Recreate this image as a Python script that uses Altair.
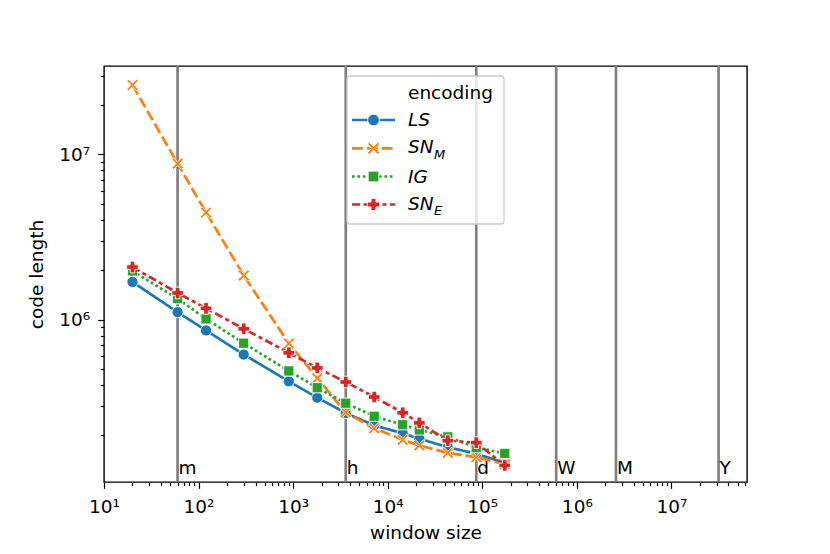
import altair as alt
import pandas as pd

# ---------------- data ----------------
window = [20, 60, 120, 300, 900, 1800, 3600, 7200, 14400, 21600, 43200, 86400, 172800]
ls_vals = [1.69e6, 1.11e6, 8.6e5, 6.15e5, 4.23e5, 3.37e5, 2.72e5, 2.29e5, 2.05e5, 1.9e5, 1.69e5, 1.54e5, 1.36e5]
snm_vals = [2.63e7, 8.8e6, 4.45e6, 1.85e6, 7.16e5, 4.42e5, 2.74e5, 2.2e5, 1.87e5, 1.73e5, 1.56e5, 1.47e5, 1.33e5]
ig_vals = [1.97e6, 1.34e6, 1.01e6, 7.2e5, 4.89e5, 3.87e5, 3.12e5, 2.6e5, 2.31e5, 2.15e5, 1.95e5, 1.68e5, 1.55e5]
sne_vals = [2.08e6, 1.45e6, 1.17e6, 8.8e5, 6.3e5, 5.1e5, 4.19e5, 3.4e5, 2.73e5, 2.37e5, 1.85e5, 1.8e5, 1.31e5]

series_keys = ["LS", "SN_M", "IG", "SN_E"]
series_main = ["LS", "SN", "IG", "SN"]
series_sub = ["", "M", "", "E"]
series_values = [ls_vals, snm_vals, ig_vals, sne_vals]

unit_values = [60, 3600, 86400, 604800, 2592000, 31536000]
unit_labels = ["m", "h", "d", "W", "M", "Y"]

x_major = [10, 100, 1000, 10000, 100000, 1000000, 10000000]
x_major_labels = ["10¹", "10²", "10³", "10⁴", "10⁵", "10⁶", "10⁷"]
y_major = [1000000, 10000000]
y_major_labels = ["10⁶", "10⁷"]

# ---------------- styles ----------------
colors = ["#1f77b4", "#ff7f0e", "#2ca02c", "#d62728"]
dashes = [[1, 0], [10.8, 4.05], [2.7, 2.7], [8.1, 3.4, 4.05, 3.4]]
X_PATH = "M0,-0.3L0.7,-1L1,-0.7L0.3,0L1,0.7L0.7,1L0,0.3L-0.7,1L-1,0.7L-0.3,0L-1,-0.7L-0.7,-1Z"
shapes = ["circle", X_PATH, "square", "cross"]
sizes = [125, 135, 105, 135]
FONT = "DejaVu Sans"
FS = 18.5

W, H = 643, 416
x_dom = [10, 6.3e7]
y_dom = [1.04e5, 3.43e7]


def minor_ticks(lo, hi):
    out = []
    e = 1
    while 10 ** e <= hi * 10:
        for m in range(2, 10):
            v = m * 10 ** e
            if lo <= v <= hi:
                out.append(v)
        e += 1
    return out


x_minor = minor_ticks(x_dom[0], x_dom[1])
y_minor = minor_ticks(y_dom[0], y_dom[1])


def label_expr(vals, labs):
    expr = "''"
    for v, l in reversed(list(zip(vals, labs))):
        expr = f"datum.value == {v} ? '{l}' : ({expr})"
    return expr


def tick_size(major):
    arr = "[" + ",".join(str(v) for v in major) + "]"
    return {"condition": {"test": f"indexof({arr}, datum.value) >= 0", "value": 6.3}, "value": 3.6}


x_axis = alt.Axis(
    values=x_major + x_minor, labelExpr=label_expr(x_major, x_major_labels),
    tickSize=tick_size(x_major), grid=False, domain=False, tickColor="black", tickWidth=1.2,
    labelFont=FONT, labelFontSize=FS, labelColor="black", labelPadding=9,
    labelOverlap=False, labelFlush=False, titleFont=FONT, titleFontSize=FS,
    titleFontWeight="normal", titleColor="black", titlePadding=8,
)
y_axis = alt.Axis(
    values=y_major + y_minor, labelExpr=label_expr(y_major, y_major_labels),
    tickSize=tick_size(y_major), grid=False, domain=False, tickColor="black", tickWidth=1.2,
    labelFont=FONT, labelFontSize=FS, labelColor="black", labelPadding=8,
    labelOverlap=False, labelFlush=False, titleFont=FONT, titleFontSize=FS,
    titleFontWeight="normal", titleColor="black", titlePadding=12,
)

x_scale = alt.Scale(type="log", domain=x_dom, nice=False)
y_scale = alt.Scale(type="log", domain=y_dom, nice=False)

rows = []
for k, vals in zip(series_keys, series_values):
    for w, v in zip(window, vals):
        rows.append({"window": w, "length": v, "encoding": k})
df = pd.DataFrame(rows)
units_df = pd.DataFrame({"window": unit_values, "label": unit_labels})
one = pd.DataFrame({"k": [0]})

X = alt.X("window:Q", scale=x_scale, axis=x_axis, title="window size")
Y = alt.Y("length:Q", scale=y_scale, axis=y_axis, title="code length")

unit_rules = alt.Chart(units_df).mark_rule(color="#808080", strokeWidth=2.7).encode(
    x=alt.X("window:Q", scale=x_scale, axis=x_axis, title="window size"),
    y=alt.value(0), y2=alt.value(H),
)
unit_text = alt.Chart(units_df).mark_text(
    align="left", baseline="alphabetic", font=FONT, fontSize=FS, color="black", dx=1
).encode(
    x=alt.X("window:Q", scale=x_scale, axis=x_axis, title="window size"),
    y=alt.value(408), text="label:N",
)

layers = [unit_rules, unit_text]
for i, k in enumerate(series_keys):
    base = alt.Chart(df).transform_filter(alt.datum.encoding == k)
    layers.append(base.mark_line(color=colors[i], strokeWidth=2.7, strokeDash=dashes[i]).encode(x=X, y=Y))
    layers.append(base.mark_point(shape=shapes[i], filled=True, fill=colors[i], stroke="white",
                                  strokeWidth=0.9, size=sizes[i], opacity=1).encode(x=X, y=Y))

# ---------------- legend (drawn like matplotlib's) ----------------
leg_left, leg_right, leg_top, leg_bottom = 243, 400, 10, 158
row_y = [54, 82.3, 110.5, 138.5]
legend = [
    alt.Chart(one).mark_rect(fill="white", fillOpacity=0.8, stroke="#cccccc", strokeWidth=1.3,
                             cornerRadius=3).encode(
        x=alt.value(leg_left), x2=alt.value(leg_right), y=alt.value(leg_top), y2=alt.value(leg_bottom)),
    alt.Chart(one).mark_text(text="encoding", align="left", baseline="middle", font=FONT,
                             fontSize=FS, color="black").encode(x=alt.value(304), y=alt.value(26.7)),
]
for i in range(len(series_keys)):
    ry = row_y[i]
    legend.append(alt.Chart(one).mark_rule(color=colors[i], strokeWidth=2.7, strokeDash=dashes[i]).encode(
        x=alt.value(248), x2=alt.value(291), y=alt.value(ry)))
    legend.append(alt.Chart(one).mark_point(shape=shapes[i], filled=True, fill=colors[i], stroke="white",
                                            strokeWidth=0.9, size=sizes[i] * 1.1, opacity=1).encode(
        x=alt.value(269.5), y=alt.value(ry)))
    sub = series_sub[i]
    legend.append(alt.Chart(one).mark_text(text=series_main[i], align="left", baseline="middle",
                                           font=FONT, fontSize=FS, fontStyle="italic", color="black",
                                           dy=-1 if sub else 0).encode(
        x=alt.value(304), y=alt.value(ry)))
    if sub:
        legend.append(alt.Chart(one).mark_text(text=sub, align="left", baseline="alphabetic",
                                               font=FONT, fontSize=13, fontStyle="italic",
                                               color="black").encode(
            x=alt.value(330), y=alt.value(ry + 10.5)))

chart = alt.layer(*layers, *legend).properties(
    width=W, height=H,
    autosize=alt.AutoSizeParams(type="none"),
    padding={"left": 96, "top": 58, "right": 75, "bottom": 64},
    background="white",
).configure_view(stroke="black", strokeWidth=1.4)

chart.save("out.html", embed_options={"renderer": "svg", "actions": False})
